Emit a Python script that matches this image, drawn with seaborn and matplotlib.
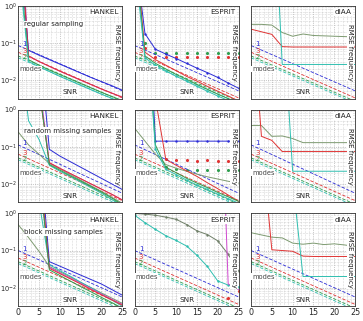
"""
RMSE of frequency estimates vs SNR: HANKEL / ESPRIT / dIAA for three sampling schemes
"""
import numpy as np
import matplotlib
matplotlib.use("Agg")
import matplotlib.pyplot as plt
from matplotlib.ticker import LogLocator, MultipleLocator, NullFormatter
import seaborn as sns

nan = np.nan

snr = [0, 2.5, 5, 7.5, 10, 12.5, 15, 17.5, 20, 22.5, 25]
snr_ends = [0, 25]

methods = ["HANKEL", "ESPRIT", "dIAA"]
schemes = ["regular sampling", "random missing samples", "block missing samples"]

# values are log10(RMSE)

# bounds (dashed), one set per sampling scheme, at snr 0 and 25
crb_reg_blue = [-1.07, -2.29]
crb_reg_red = [-1.25, -2.48]
crb_reg_green = [-1.35, -2.57]
crb_reg_cyan = [-1.4, -2.62]
crb_rnd_blue = [-0.95, -2.25]
crb_rnd_red = [-1.2, -2.45]
crb_rnd_green = [-1.3, -2.55]
crb_rnd_cyan = [-1.35, -2.6]
crb_blk_blue = [-1.0, -2.25]
crb_blk_red = [-1.2, -2.45]
crb_blk_green = [-1.3, -2.55]
crb_blk_cyan = [-1.35, -2.6]

# regular sampling
hk_reg_magenta = [3.2, -1.35, -1.5, -1.63, -1.76, -1.88, -2.0, -2.12, -2.24, -2.35, -2.46]
hk_reg_blue = [2.0, -1.2, -1.33, -1.45, -1.57, -1.69, -1.81, -1.93, -2.04, -2.15, -2.27]
hk_reg_red = [2.6, -1.35, -1.5, -1.63, -1.76, -1.88, -2.0, -2.12, -2.24, -2.35, -2.46]
hk_reg_green = [1.5, -1.45, -1.6, -1.73, -1.85, -1.97, -2.09, -2.21, -2.33, -2.44, -2.55]
hk_reg_cyan = [1.2, -1.5, -1.64, -1.77, -1.9, -2.02, -2.14, -2.26, -2.38, -2.49, -2.6]

es_reg_blue = [1.5, -0.75, -1.17, -1.3, -1.42, -1.55, -1.68, -1.8, -1.93, -2.08, -2.22]
es_reg_red = [1.8, -1.25, -1.45, -1.6, -1.75, -1.9, -2.03, -2.17, -2.3, -2.43, -2.56]
es_reg_green = [1.6, -1.35, -1.55, -1.7, -1.85, -1.98, -2.12, -2.25, -2.38, -2.5, -2.62]
es_reg_cyan = [1.2, -1.4, -1.6, -1.75, -1.9, -2.03, -2.17, -2.3, -2.43, -2.55, -2.68]
es_reg_red_dots = [nan, -1.15, -1.38, -1.38, -1.38, -1.38, -1.38, -1.38, -1.38, -1.38, -1.38]
es_reg_green_dots = [nan, -1.0, -1.27, -1.27, -1.27, -1.27, -1.27, -1.27, -1.27, -1.27, -1.27]

di_reg_olive = [-0.5, -0.5, -0.52, -0.72, -0.82, -0.76, -0.8, -0.81, -0.82, -0.83, -0.84]
di_reg_red = [-0.63, -0.7, -0.77, -1.1, -1.11, -1.11, -1.11, -1.11, -1.11, -1.11, -1.11]
di_reg_cyan = [nan, nan, 4.06, -1.58, -1.58, -1.58, -1.58, -1.58, -1.58, -1.58, -1.58]

# random missing samples
hk_rnd_olive = [-0.6, -0.95, -1.2, -1.45, -1.6, -1.75, -1.9, -2.05, -2.2, -2.36, -2.52]
hk_rnd_cyan = [2.0, -0.3, -0.8, -1.5, -1.66, -1.8, -1.95, -2.1, -2.25, -2.42, -2.6]
hk_rnd_magenta = [nan, 4.0, 0.8, -1.43, -1.58, -1.72, -1.86, -2.0, -2.14, -2.28, -2.43]
hk_rnd_blue = [3.0, 3.0, 2.0, -1.07, -1.25, -1.4, -1.55, -1.7, -1.85, -2.0, -2.15]
hk_rnd_red = [nan, 4.0, 0.56, -1.43, -1.58, -1.72, -1.86, -2.0, -2.14, -2.28, -2.43]
hk_rnd_green = [nan, 4.0, 0.6, -1.48, -1.63, -1.78, -1.92, -2.07, -2.22, -2.38, -2.55]

es_rnd_olive = [-0.5, -0.85, -1.2, -1.48, -1.58, -1.66, -1.74, -1.81, -1.87, -1.93, -1.98]
es_rnd_blue = [5.0, 5.0, -0.85, -0.85, -0.85, -0.85, -0.85, -0.85, -0.85, -0.85, -0.85]
es_rnd_red = [nan, 5.0, 0.3, -1.34, -1.5, -1.65, -1.8, -1.97, -2.13, -2.3, -2.47]
es_rnd_green = [nan, 3.0, -0.95, -1.55, -1.7, -1.85, -1.98, -2.1, -2.23, -2.35, -2.47]
es_rnd_cyan = [nan, 3.0, -1.07, -1.61, -1.75, -1.9, -2.03, -2.15, -2.28, -2.4, -2.52]
es_rnd_red_dots = [nan, nan, nan, -1.34, -1.36, -1.36, -1.38, -1.36, -1.38, -1.38, -1.38]
es_rnd_green_dots = [nan, nan, nan, -1.55, -1.6, -1.63, -1.63, -1.63, -1.63, -1.63, -1.63]

di_rnd_olive = [-0.43, -0.43, -0.72, -0.71, -0.78, -0.89, -0.89, -0.89, -0.89, -0.89, -0.89]
di_rnd_red = [3.0, -0.72, -0.83, -1.13, -1.13, -1.13, -1.13, -1.13, -1.13, -1.13, -1.13]
di_rnd_cyan = [nan, nan, nan, 2.95, -1.66, -1.66, -1.66, -1.66, -1.66, -1.66, -1.66]

# block missing samples
hk_blk_olive = [-0.3, -0.65, -1.02, -1.43, -1.57, -1.71, -1.86, -2.0, -2.14, -2.28, -2.42]
hk_blk_cyan = [nan, 4.0, 0.34, -1.38, -1.54, -1.69, -1.85, -2.0, -2.16, -2.33, -2.5]
hk_blk_magenta = [nan, nan, 1.3, -1.45, -1.6, -1.74, -1.88, -2.03, -2.17, -2.31, -2.45]
hk_blk_blue = [nan, 4.0, 2.0, -1.3, -1.42, -1.54, -1.66, -1.78, -1.9, -2.05, -2.2]
hk_blk_red = [nan, 4.0, 1.5, -1.48, -1.62, -1.76, -1.9, -2.05, -2.19, -2.33, -2.47]
hk_blk_green = [nan, 4.0, 1.2, -1.52, -1.67, -1.82, -1.97, -2.11, -2.26, -2.4, -2.55]

es_blk_olive = [0.0, -0.02, -0.05, -0.1, -0.16, -0.3, -0.47, -0.57, -0.74, -1.1, -1.55]
es_blk_cyan = [-0.05, -0.25, -0.43, -0.6, -0.73, -0.88, -1.13, -1.43, -1.82, -1.93, -1.98]
es_blk_magenta = [nan, nan, nan, nan, nan, nan, nan, nan, 6.0, -1.9, -2.05]
es_blk_red_dots = [nan, nan, nan, nan, nan, nan, nan, nan, nan, -2.27, -2.1]

di_blk_olive = [-0.52, -0.58, -0.64, -0.66, -0.8, -0.83, -0.8, -0.84, -0.82, -0.85, -0.89]
di_blk_red = [nan, 2.0, -0.98, -1.0, -1.02, -1.15, -1.16, -1.16, -1.16, -1.16, -1.16]
di_blk_cyan = [nan, nan, nan, nan, 0.9, -1.7, -1.7, -1.7, -1.7, -1.7, -1.7]

BLUE = "#2b2bd6"
RED = "#e03333"
GREEN = "#2f9e4f"
CYAN = "#2fbfb0"
OLIVE = "#7d9a70"
MAGENTA = "#d048d0"

crb_rows = [
    [(crb_reg_blue, BLUE), (crb_reg_red, RED), (crb_reg_green, GREEN), (crb_reg_cyan, CYAN)],
    [(crb_rnd_blue, BLUE), (crb_rnd_red, RED), (crb_rnd_green, GREEN), (crb_rnd_cyan, CYAN)],
    [(crb_blk_blue, BLUE), (crb_blk_red, RED), (crb_blk_green, GREEN), (crb_blk_cyan, CYAN)],
]

# (values, colour, marker) for the solid curves of each panel
curves = {
    (0, 0): [(hk_reg_magenta, MAGENTA, None), (hk_reg_blue, BLUE, None), (hk_reg_red, RED, None),
             (hk_reg_green, GREEN, None), (hk_reg_cyan, CYAN, None)],
    (0, 1): [(es_reg_blue, BLUE, "."), (es_reg_red, RED, None), (es_reg_green, GREEN, None),
             (es_reg_cyan, CYAN, ".")],
    (0, 2): [(di_reg_olive, OLIVE, None), (di_reg_red, RED, None), (di_reg_cyan, CYAN, None)],
    (1, 0): [(hk_rnd_olive, OLIVE, None), (hk_rnd_cyan, CYAN, None), (hk_rnd_magenta, MAGENTA, None),
             (hk_rnd_blue, BLUE, None), (hk_rnd_red, RED, None), (hk_rnd_green, GREEN, None)],
    (1, 1): [(es_rnd_olive, OLIVE, None), (es_rnd_blue, BLUE, "."), (es_rnd_red, RED, None),
             (es_rnd_green, GREEN, None), (es_rnd_cyan, CYAN, ".")],
    (1, 2): [(di_rnd_olive, OLIVE, None), (di_rnd_red, RED, None), (di_rnd_cyan, CYAN, None)],
    (2, 0): [(hk_blk_olive, OLIVE, None), (hk_blk_cyan, CYAN, None), (hk_blk_magenta, MAGENTA, None),
             (hk_blk_blue, BLUE, None), (hk_blk_red, RED, None), (hk_blk_green, GREEN, None)],
    (2, 1): [(es_blk_olive, "#6f7f68", "."), (es_blk_cyan, CYAN, "."), (es_blk_magenta, MAGENTA, None)],
    (2, 2): [(di_blk_olive, OLIVE, None), (di_blk_red, RED, None), (di_blk_cyan, CYAN, None)],
}

dots = {
    (0, 1): [(es_reg_red_dots, RED), (es_reg_green_dots, GREEN)],
    (1, 1): [(es_rnd_red_dots, RED), (es_rnd_green_dots, GREEN)],
    (2, 1): [(es_blk_red_dots, RED)],
}

sns.set_style("white")
plt.rcParams['font.family'] = ['DejaVu Sans']

fig, axes = plt.subplots(3, 3, figsize=(3.63, 3.21), dpi=100, sharex=True, sharey=True)
fig.subplots_adjust(left=0.05, right=0.978, top=0.982, bottom=0.046, wspace=0.12, hspace=0.118)

box = dict(facecolor="white", edgecolor="none", pad=0.6)

for r in range(3):
    for c in range(3):
        ax = axes[r, c]
        ax.set_yscale("log")

        for vals, col in crb_rows[r]:
            sns.lineplot(x=snr_ends, y=10.0 ** np.array(vals), ax=ax, color=col,
                         linestyle=(0, (4, 2)), linewidth=0.6)
        for vals, col, mk in curves[(r, c)]:
            sns.lineplot(x=snr, y=10.0 ** np.array(vals), ax=ax, color=col,
                         linewidth=0.7, marker=mk, markersize=3.5, markeredgewidth=0)
        for vals, col in dots.get((r, c), []):
            sns.scatterplot(x=snr, y=10.0 ** np.array(vals), ax=ax, color=col,
                            s=5, linewidth=0)

        ax.set_xlim(0, 25)
        ax.set_ylim(10 ** -2.5, 1)
        ax.xaxis.set_major_locator(MultipleLocator(5))
        ax.xaxis.set_minor_locator(MultipleLocator(1))
        ax.yaxis.set_major_locator(LogLocator(base=10, numticks=5))
        ax.yaxis.set_minor_locator(LogLocator(base=10, subs=np.arange(2, 10), numticks=20))
        ax.yaxis.set_minor_formatter(NullFormatter())
        ax.grid(True, which="major", linestyle=":", linewidth=0.5, color="#9a9a9a")
        ax.grid(True, which="minor", linestyle=":", linewidth=0.4, color="#b5b5b5")
        ax.tick_params(which="both", direction="in", length=1.5, labelsize=5.8, pad=1.5)
        ax.tick_params(axis="y", labelsize=4.8, pad=0.8)
        ax.tick_params(which="minor", length=0)
        for s in ax.spines.values():
            s.set_linewidth(0.6)
            s.set_color("#333333")
        ax.set_xlabel("")
        ax.set_ylabel("")

        ax.text(0.97, 0.965, methods[c], transform=ax.transAxes, ha="right", va="top",
                fontsize=5.2, color="#222222", bbox=box)
        ax.text(0.5, 0.04, "SNR", transform=ax.transAxes, ha="center", va="bottom",
                fontsize=5.2, color="#222222", bbox=box)
        ax.text(0.955, 0.5, "RMSE frequency", transform=ax.transAxes, ha="center", va="center",
                rotation=-90, fontsize=5.0, color="#222222", bbox=box)

        # mode numbers next to the start of the bound curves
        ax.text(1.0, 10 ** (crb_rows[r][0][0][0] + 0.05), "1", fontsize=5, color=BLUE, va="center")
        ax.text(1.0, 10 ** (crb_rows[r][1][0][0] + 0.02), "3", fontsize=5, color=RED, va="center")
        ax.text(1.0, 10 ** (crb_rows[r][2][0][0] - 0.04), "2", fontsize=5, color=GREEN, va="center")
        ax.text(0.2, 10 ** -1.7, "modes", fontsize=4.8, color="#444444", va="center",
                bbox=dict(facecolor="white", edgecolor="none", pad=0.3))

        if c == 0:
            ax.text(0.06, 0.8 if r != 1 else 0.77, schemes[r], transform=ax.transAxes,
                    ha="left", va="center", fontsize=5.0, color="#222222", bbox=box)

fig.savefig("out.png", dpi=100)
